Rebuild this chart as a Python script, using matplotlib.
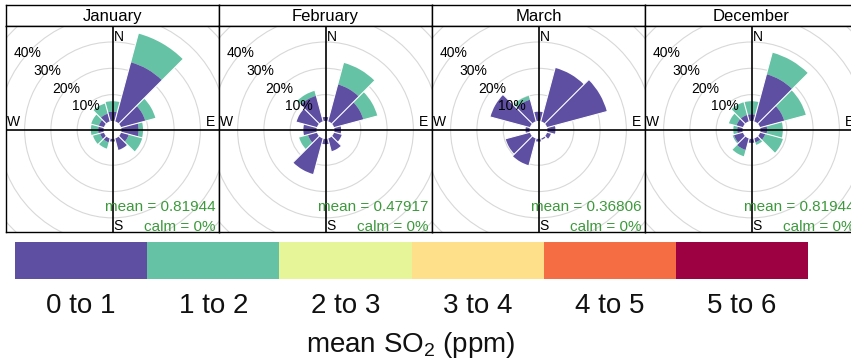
import numpy as np
import matplotlib
matplotlib.use('Agg')
import matplotlib.pyplot as plt
from matplotlib.patches import Wedge, Circle

# wind rose of mean SO2 by month (percent of time per 30 deg sector)
months = ['January', 'February', 'March', 'December']
means = ['0.81944', '0.47917', '0.36806', '0.81944']
dirs = [0, 30, 60, 90, 120, 150, 180, 210, 240, 270, 300, 330]

# N, NNE, ENE, E, ESE, SSE, S, SSW, WSW, W, WNW, NNW
jan_0to1 = [3.5, 23.2, 9.5, 6.5, 3.0, 4.5, 1.0, 1.5, 1.5, 2.0, 2.0, 3.0]
jan_1to2 = [4.0, 11.3, 4.0, 1.7, 5.3, 0.0, 0.0, 2.5, 2.8, 2.8, 3.0, 4.0]
feb_0to1 = [1.5, 14.5, 11.5, 2.5, 3.0, 5.0, 2.0, 14.0, 3.5, 5.0, 8.0, 10.0]
feb_1to2 = [0.0, 8.5, 5.5, 0.0, 0.0, 0.0, 0.0, 0.0, 3.5, 0.0, 0.0, 2.0]
mar_0to1 = [3.5, 21.0, 23.5, 3.0, 1.5, 0.5, 1.0, 10.5, 9.5, 1.5, 15.5, 8.5]
mar_1to2 = [0.0, 0.0, 0.0, 0.0, 0.0, 0.0, 0.0, 0.0, 0.0, 0.0, 0.0, 1.5]
dec_0to1 = [2.5, 18.5, 9.5, 2.5, 2.0, 1.5, 1.5, 4.5, 3.5, 2.0, 2.5, 2.5]
dec_1to2 = [5.0, 8.5, 8.5, 6.0, 7.0, 1.0, 0.0, 2.5, 0.5, 1.5, 3.0, 5.0]

bands = ['0 to 1', '1 to 2', '2 to 3', '3 to 4', '4 to 5', '5 to 6']
band_cols = ['#5E4FA2', '#66C2A5', '#E6F598', '#FEE08B', '#F46D43', '#9E0142']
rings = [10, 20, 30, 40, 50]
ring_labels = [10, 20, 30, 40]

W, H = 851, 364
OFF = 3.42      # empty hole in the middle, in percent units
TXT_GREEN = '#3c9a3c'

plt.rcParams['font.family'] = ['Liberation Sans', 'DejaVu Sans']
plt.rcParams['mathtext.default'] = 'regular'


def px_box(x0, y0, x1, y1):
    return [x0 / W, 1 - y1 / H, (x1 - x0) / W, (y1 - y0) / H]


def DoRose(fig, i, month, mean, lo, hi):
    x0 = 6 + 213 * i
    # strip with month name
    st = fig.add_axes(px_box(x0, 5, x0 + 213, 26))
    st.set_xticks([]); st.set_yticks([])
    for s in st.spines.values():
        s.set_linewidth(1.0)
    st.text(0.5, 0.45, month, ha='center', va='center', fontsize=12, transform=st.transAxes)

    ax = fig.add_axes(px_box(x0, 26, x0 + 213, 232))
    ax.set_xlim(-40.5, 40.5)
    ax.set_ylim(-38.8, 39.5)
    ax.set_xticks([]); ax.set_yticks([])
    for s in ax.spines.values():
        s.set_linewidth(1.0)

    for r in rings:
        ax.add_patch(Circle((0, 0), OFF + r, fill=False, ec='#d8d8d8', lw=0.8, zorder=1))
    for r in ring_labels:
        a = np.radians(138)
        ax.text((OFF + r) * np.cos(a), (OFF + r) * np.sin(a), '%d%%' % r,
                ha='center', va='center', fontsize=10, zorder=6)

    lo = np.array(lo); hi = np.array(hi)
    tot = lo + hi
    for d, p, t in zip(dirs, lo, tot):
        th1, th2 = 90 - d - 15, 90 - d + 15
        if t > p:
            ax.add_patch(Wedge((0, 0), OFF + t, th1, th2, width=t - p + 0.01,
                               fc=band_cols[1], lw=0, zorder=2))
        if p > 0:
            ax.add_patch(Wedge((0, 0), OFF + p, th1, th2, width=p,
                               fc=band_cols[0], lw=0, zorder=2))

    # thin white gaps between neighbouring sectors
    for j, d in enumerate(dirs):
        rmax = max(tot[j], tot[(j + 1) % len(dirs)])
        if rmax > 0:
            a = np.radians(90 - d - 15)
            ax.plot([OFF * np.cos(a), (OFF + rmax) * np.cos(a)],
                    [OFF * np.sin(a), (OFF + rmax) * np.sin(a)],
                    color='white', lw=0.8, zorder=3)

    ax.axhline(0, color='black', lw=1.2, zorder=5)
    ax.axvline(0, color='black', lw=1.2, zorder=5)
    ax.text(0.4, 35.4, 'N', ha='left', va='center', fontsize=10, zorder=6)
    ax.text(0.5, -36.5, 'S', ha='left', va='center', fontsize=10, zorder=6)
    ax.text(-40.0, 0.3, 'W', ha='left', va='bottom', fontsize=10, zorder=6)
    ax.text(39.2, 0.3, 'E', ha='right', va='bottom', fontsize=10, zorder=6)
    ax.text(39.2, -29.2, 'mean = ' + mean, ha='right', va='center', fontsize=11,
            color=TXT_GREEN, zorder=6)
    ax.text(39.2, -36.9, 'calm = 0%', ha='right', va='center', fontsize=11,
            color=TXT_GREEN, zorder=6)


def DoFig(filename):
    fig = plt.figure(figsize=(W / 100, H / 100), dpi=100)
    data = [(jan_0to1, jan_1to2), (feb_0to1, feb_1to2),
            (mar_0to1, mar_1to2), (dec_0to1, dec_1to2)]
    for i, (m, mn, (lo, hi)) in enumerate(zip(months, means, data)):
        DoRose(fig, i, m, mn, lo, hi)

    # colour key
    lg = fig.add_axes(px_box(15, 242, 808, 279))
    lg.bar(np.arange(len(bands)), np.ones(len(bands)), width=1, align='edge',
           color=band_cols, lw=0)
    lg.set_xlim(0, len(bands)); lg.set_ylim(0, 1)
    lg.axis('off')
    step = (808 - 15) / len(bands)
    for k, b in enumerate(bands):
        fig.text((15 + step * (k + 0.5)) / W, 1 - 306 / H, b, ha='center', va='center',
                 fontsize=20, color='#111111')
    fig.text(411 / W, 1 - 345 / H, 'mean SO$_2$ (ppm)', ha='center', va='center',
             fontsize=20, color='#111111')

    fig.savefig(filename, dpi=100)


if __name__ == '__main__':
    DoFig('out.png')
